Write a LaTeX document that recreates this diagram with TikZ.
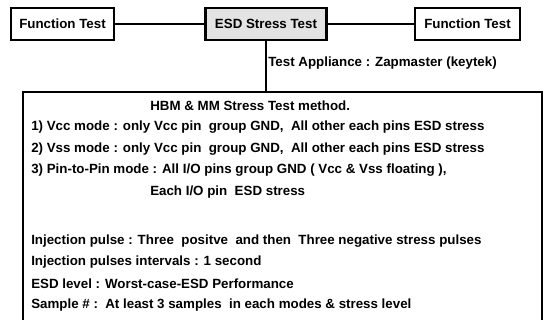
\documentclass[tikz,border=0pt]{standalone}
\usepackage{fontspec}
\setmainfont{Liberation Sans}
\usetikzlibrary{positioning}

\tikzset{
  testbox/.style={draw, line width=1.9pt, font=\bfseries, inner sep=0pt, minimum height=24pt},
  txtline/.style={anchor=west, font=\bfseries, inner sep=0pt},
}

\begin{document}
\begin{tikzpicture}[x=0.75pt,y=-0.75pt,font=\fontsize{9}{11}\selectfont]
    \useasboundingbox (0,0) rectangle (546,320);

    \node[testbox, minimum width=77pt] (ftA) at (62.5,24) {Function Test};
    \node[testbox, fill=gray!22, minimum width=91pt] (esd) at (266,24) {ESD Stress Test};
    \node[testbox, minimum width=79pt] (ftB) at (467.5,24) {Function Test};

    \node[draw, line width=1.9pt, minimum width=389pt, minimum height=172pt, inner sep=0pt] (method) at (282.5,206.5) {};

    \draw[line width=1.4pt] (ftA) -- (esd);
    \draw[line width=1.4pt] (esd) -- (ftB);
    \draw[line width=1.4pt] (esd.south) -- (esd.south |- method.north);

    \node[txtline] (appl) at (268,63) {Test Appliance : Zapmaster (keytek)};

    % text in the method box
    \node[txtline] (title) at (150,106) {HBM \& MM Stress Test method.};
    \node[txtline] (vcc) at (31,127.5) {1) Vcc mode : only Vcc pin\ \ group GND,\ \ All other each pins ESD stress};
    \node[txtline] (vss) at (31,149) {2) Vss mode : only Vcc pin\ \ group GND,\ \ All other each pins ESD stress};
    \node[txtline] (pin) at (31,170.5) {3) Pin-to-Pin mode : All I/O pins group GND ( Vcc \& Vss floating ),};
    \node[txtline] (pinb) at (150,192) {Each I/O pin\ \ ESD stress};

    \node[txtline] (inj) at (31,241) {Injection pulse : Three\ \ positve\ \ and then\ \ Three negative stress pulses};
    \node[txtline] (intv) at (31,262.5) {Injection pulses intervals : 1 second};
    \node[txtline] (lvl) at (31,284) {ESD level : Worst-case-ESD Performance};
    \node[txtline] (smp) at (31,305) {Sample \# :\ \ At least 3 samples\ \ in each modes \& stress level};
\end{tikzpicture}
\end{document}
